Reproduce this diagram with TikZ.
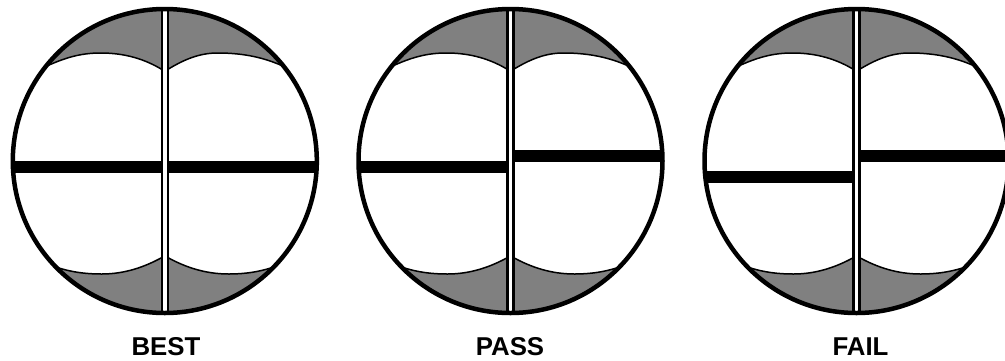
\documentclass[tikz,border=0pt]{standalone}
\usepackage{fontspec}
\setmainfont{Liberation Sans}
\newcommand{\gauge}[3]{%
\begin{scope}[shift={(#1,161)}]
 \begin{scope}
  \clip (0,0) circle (152);
  \filldraw[shade] (-118,-95) .. controls (-100,-103) and (-85,-108) .. (-64,-108) .. controls (-40,-108) and (-20,-102) .. (-2,-91) -- (-2,-160) -- (-160,-160) -- (-160,-95) -- cycle;
  \filldraw[shade] (2,-91) .. controls (20,-102) and (35,-108) .. (53,-108) .. controls (80,-108) and (100,-103) .. (118,-95) -- (160,-95) -- (160,-160) -- (2,-160) -- cycle;
  \filldraw[shade] (-112,105) .. controls (-95,111) and (-80,113) .. (-63,113) .. controls (-40,113) and (-20,106) .. (-2,96) -- (-2,160) -- (-160,160) -- (-160,105) -- cycle;
  \filldraw[shade] (2,96) .. controls (20,106) and (40,113) .. (64,113) .. controls (80,113) and (95,111) .. (112,105) -- (160,105) -- (160,160) -- (2,160) -- cycle;
  \fill[black] (-160,#2-6.25) rectangle (0,#2+6.25);
  \fill[black] (0,#3-6.25) rectangle (160,#3+6.25);
 \end{scope}
 \fill[black] (-4.2,-152) rectangle (4.2,152);
 \fill[white] (-1.7,-150) rectangle (1.7,150);
 \draw[ring] (0,0) circle (152);
\end{scope}}
\tikzset{
 shade/.style={fill=black!50,draw=black,line width=1.5pt},
 ring/.style={draw=black,line width=4.5pt},
 caption/.style={font=\bfseries\fontsize{25.8}{25.8}\selectfont,anchor=base}
}
\begin{document}
\begin{tikzpicture}[x=1pt,y=-1pt]
\useasboundingbox (0,0) rectangle (1005,360);
\clip (0,0) rectangle (1005,360);
\fill[white] (0,0) rectangle (1005,360);
\gauge{164.8}{6}{6}
\gauge{510.5}{6}{-5}
\gauge{856.5}{16}{-5}
\node[caption] (best) at (166,355) {BEST};
\node[caption] (pass) at (510,355) {PASS};
\node[caption] (fail) at (860.5,355) {FAIL};
\end{tikzpicture}
\end{document}
